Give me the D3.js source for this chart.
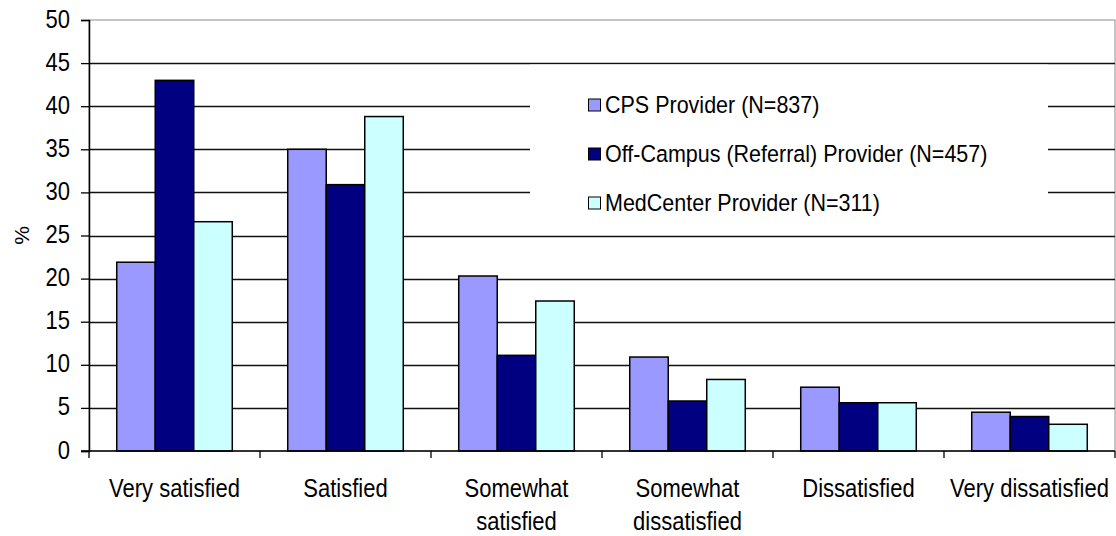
<!DOCTYPE html>
<html lang="en">
  <head>
    <meta charset="UTF-8" />
    <script src="https://cdn.jsdelivr.net/npm/d3@7"></script>
    <style>
      body { margin: 0; background: #fff; }
      text { font-family: "Liberation Sans", Arial, sans-serif; fill: #000; }
    </style>
  </head>
  <body>
    <div id="fig"></div>
    <script>
      const categories = [
        "Very satisfied",
        "Satisfied",
        "Somewhat satisfied",
        "Somewhat dissatisfied",
        "Dissatisfied",
        "Very dissatisfied",
      ];
      // label lines as printed under each category
      const categoryLines = [
        ["Very satisfied"],
        ["Satisfied"],
        ["Somewhat", "satisfied"],
        ["Somewhat", "dissatisfied"],
        ["Dissatisfied"],
        ["Very dissatisfied"],
      ];
      const seriesNames = [
        "CPS Provider (N=837)",
        "Off-Campus (Referral) Provider (N=457)",
        "MedCenter Provider (N=311)",
      ];
      const cpsValues = [21.9, 35.0, 20.3, 10.9, 7.4, 4.5];
      const offCampusValues = [43.0, 30.9, 11.1, 5.8, 5.6, 4.0];
      const medCenterValues = [26.6, 38.8, 17.4, 8.3, 5.6, 3.1];
      const yTicks = [0, 5, 10, 15, 20, 25, 30, 35, 40, 45, 50];
      const colors = ["#9999ff", "#000080", "#ccffff"];

      const width = 1116, height = 536;
      const margins = { top: 20, right: 1, left: 89, bottom: 85 };
      const fontSize = 22;
      const stretch = 1.14; // old chart font is taller than it is wide

      const series = [cpsValues, offCampusValues, medCenterValues];

      const svg = d3.select("#fig").append("svg")
        .attr("width", width).attr("height", height);

      const x0 = d3.scaleBand()
        .domain(categories)
        .range([margins.left, width - margins.right])
        .padding(0);
      const x1 = d3.scaleBand()
        .domain(d3.range(series.length))
        .range([0, x0.bandwidth()])
        .paddingInner(0)
        .paddingOuter(0.72);
      const y = d3.scaleLinear()
        .domain([0, 50])
        .range([height - margins.bottom, margins.top]);

      // plot frame (grey top/right)
      svg.append("rect")
        .attr("x", margins.left).attr("y", y(50))
        .attr("width", width - margins.right - margins.left)
        .attr("height", y(0) - y(50))
        .attr("fill", "none").attr("stroke", "#8c8c8c").attr("stroke-width", 1);

      // gridlines
      svg.append("g")
        .selectAll("line")
        .data(yTicks.filter((d) => d > 0 && d < 50))
        .join("line")
        .attr("x1", margins.left).attr("x2", width - margins.right)
        .attr("y1", (d) => Math.round(y(d)) + 0.5)
        .attr("y2", (d) => Math.round(y(d)) + 0.5)
        .attr("stroke", "#111").attr("stroke-width", 1.3);

      // legend box hides gridlines behind it
      const legend = svg.append("g");
      legend.append("rect")
        .attr("x", 530).attr("y", y(45) + 1.5)
        .attr("width", 518).attr("height", y(25) - y(45) - 3)
        .attr("fill", "#fff");

      // bars
      categories.forEach((c, ci) => {
        svg.append("g")
          .selectAll("rect")
          .data(series.map((s, si) => ({ si, v: s[ci] })))
          .join("rect")
          .attr("x", (d) => x0(c) + x1(d.si))
          .attr("y", (d) => y(d.v))
          .attr("width", x1.bandwidth())
          .attr("height", (d) => y(0) - y(d.v))
          .attr("fill", (d) => colors[d.si])
          .attr("stroke", "#000").attr("stroke-width", 1.5);
      });

      // y axis
      const yAxis = svg.append("g")
        .attr("transform", `translate(${margins.left},0)`)
        .call(d3.axisLeft(y).tickValues(yTicks).tickSize(8).tickPadding(10).tickFormat(d3.format("d")));
      yAxis.select(".domain").attr("stroke", "#000").attr("stroke-width", 1.5);
      yAxis.selectAll(".tick line").attr("stroke", "#000").attr("stroke-width", 1.3);
      yAxis.selectAll(".tick text")
        .style("font-size", fontSize + "px")
        .attr("fill", "#000")
        .attr("x", null).attr("dy", null)
        .attr("transform", `translate(-19,7) scale(1,${stretch})`);

      // x axis
      const xAxis = svg.append("g")
        .attr("transform", `translate(0,${y(0)})`);
      xAxis.append("line")
        .attr("x1", margins.left - 8).attr("x2", width - margins.right)
        .attr("y1", 0).attr("y2", 0)
        .attr("stroke", "#000").attr("stroke-width", 1.5);
      xAxis.selectAll(".sep")
        .data(categories.concat([null]))
        .join("line")
        .attr("class", "sep")
        .attr("x1", (d) => (d === null ? width - margins.right : x0(d)))
        .attr("x2", (d) => (d === null ? width - margins.right : x0(d)))
        .attr("y1", 0).attr("y2", 7)
        .attr("stroke", "#000").attr("stroke-width", 1.3);

      const labels = xAxis.selectAll(".cat")
        .data(categories)
        .join("text")
        .attr("class", "cat")
        .attr("text-anchor", "middle")
        .style("font-size", fontSize + "px")
        .attr("transform", (d) => `translate(${x0(d) + x0.bandwidth() / 2},46) scale(1,${stretch})`);
      labels.each(function (d, i) {
        d3.select(this).selectAll("tspan")
          .data(categoryLines[i])
          .join("tspan")
          .attr("x", 0)
          .attr("dy", (t, j) => (j === 0 ? 0 : 33 / stretch))
          .text((t) => t);
      });

      // y title
      svg.append("text")
        .attr("transform", `translate(29,${y(25)}) rotate(-90)`)
        .attr("text-anchor", "middle")
        .style("font-size", "21px")
        .text("%");

      // legend entries
      const rowY = [105, 154, 203];
      seriesNames.forEach((name, i) => {
        legend.append("rect")
          .attr("x", 588.5).attr("y", rowY[i] - 6)
          .attr("width", 12).attr("height", 12)
          .attr("fill", colors[i])
          .attr("stroke", "#000").attr("stroke-width", 1);
        legend.append("text")
          .attr("transform", `translate(605,${rowY[i] + 8}) scale(1,${stretch})`)
          .style("font-size", (fontSize - 0.5) + "px")
          .text(name);
      });
    </script>
  </body>
</html>
